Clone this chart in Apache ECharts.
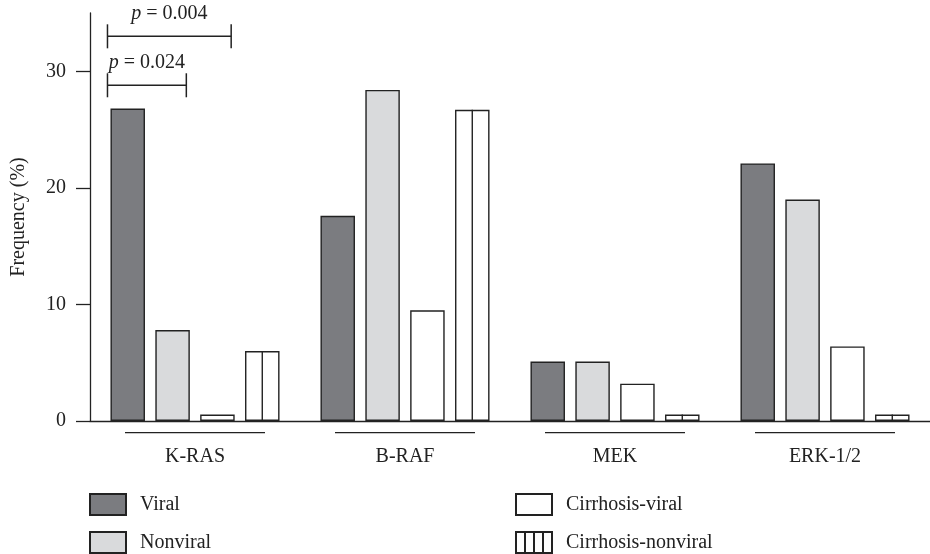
<!DOCTYPE html>
<html>
<head>
<meta charset="utf-8">
<script src="https://cdn.jsdelivr.net/npm/echarts@6/dist/echarts.min.js"></script>
<style>html,body{margin:0;padding:0;background:#fff}#c{width:930px;height:554px}</style>
</head>
<body>
<div id="c"></div>
<script>
const categories = ['K-RAS', 'B-RAF', 'MEK', 'ERK-1/2'];
const viral = [26.8, 17.6, 5.1, 22.1];
const nonviral = [7.8, 28.4, 5.1, 19.0];
const cirrhosisViral = [0.55, 9.5, 3.2, 6.4];
const cirrhosisNonviral = [6.0, 26.7, 0.55, 0.55];
const yTicks = [0, 10, 20, 30];
const seriesNames = ['Viral', 'Nonviral', 'Cirrhosis-viral', 'Cirrhosis-nonviral'];
const brackets = [
  { cat: 0, from: 0, to: 2, y: 33.0, p: '0.004' },
  { cat: 0, from: 0, to: 1, y: 28.8, p: '0.024' }
];

const FONT = 'Liberation Serif';
const FS = 20;
const INK = '#222';
const BAR_W = 34.5;
const GAP_RATIO = 0.3;
const GAP = BAR_W * GAP_RATIO;
const N = 4;
const GROUP_W = N * BAR_W + (N - 1) * GAP;
function barLeft(i) { return -GROUP_W / 2 + i * (BAR_W + GAP); }
function barCenter(i) { return barLeft(i) + BAR_W / 2; }

const border = { borderColor: INK, borderWidth: 1.4 };

const chart = echarts.init(document.getElementById('c'), null, { renderer: 'canvas' });

function barSeries(name, data, color) {
  return {
    name: name, type: 'bar', data: data, barWidth: BAR_W, barGap: (GAP_RATIO * 100) + '%',
    itemStyle: Object.assign({ color: color }, border),
    emphasis: { disabled: true }, animation: false
  };
}

const option = {
  animation: false,
  textStyle: { fontFamily: FONT, color: INK },
  grid: { left: 90, right: -5, top: 13, bottom: 133, containLabel: false },
  xAxis: {
    type: 'category', data: categories,
    axisLine: { show: true, lineStyle: { color: INK, width: 1.3 } },
    axisTick: { show: false },
    axisLabel: {
      margin: 11, interval: 0,
      formatter: v => '{line|}\n{name|' + v + '}',
      rich: {
        line: { width: 140, height: 1.3, lineHeight: 1.3, backgroundColor: INK },
        name: { fontFamily: FONT, fontSize: FS, color: INK, lineHeight: 47, verticalAlign: 'middle' }
      }
    }
  },
  yAxis: {
    type: 'value', min: 0, max: 35, interval: 10,
    name: 'Frequency (%)', nameLocation: 'middle', nameGap: 61, nameRotate: 90,
    nameTextStyle: { fontFamily: FONT, fontSize: FS, color: INK },
    axisLine: { show: true, lineStyle: { color: INK, width: 1.3 } },
    axisTick: { show: true, length: 14, lineStyle: { color: INK, width: 1.3 }, customValues: yTicks },
    axisLabel: { margin: 24, fontFamily: FONT, fontSize: FS, color: INK, customValues: yTicks },
    splitLine: { show: false }
  },
  legend: [
    {
      data: [{ name: seriesNames[0], icon: 'rect' }, { name: seriesNames[1], icon: 'rect' }],
      orient: 'vertical', left: 89, top: 493, padding: 0, itemWidth: 36, itemHeight: 21, itemGap: 15,
      selectedMode: false,
      textStyle: { fontFamily: FONT, fontSize: FS, color: INK, padding: [0, 0, 0, 9] }
    },
    {
      data: [{ name: seriesNames[2], icon: 'rect' },
             { name: seriesNames[3], icon: 'path://M0,0L36,0L36,21L0,21Z M9,0L9,21 M18,0L18,21 M27,0L27,21' }],
      orient: 'vertical', left: 515, top: 493, padding: 0, itemWidth: 36, itemHeight: 21, itemGap: 15,
      selectedMode: false,
      textStyle: { fontFamily: FONT, fontSize: FS, color: INK, padding: [0, 0, 0, 9] }
    }
  ],
  series: [
    barSeries(seriesNames[0], viral, '#7b7c80'),
    barSeries(seriesNames[1], nonviral, '#d9dadc'),
    barSeries(seriesNames[2], cirrhosisViral, '#ffffff'),
    barSeries(seriesNames[3], cirrhosisNonviral, '#ffffff'),
    {
      type: 'custom', name: 'cn-divider', silent: true, z: 5,
      data: cirrhosisNonviral.map((v, i) => [i, v]),
      renderItem: function (params, api) {
        const top = api.coord([api.value(0), api.value(1)]);
        const base = api.coord([api.value(0), 0]);
        const x = top[0] + barCenter(3);
        return { type: 'line', shape: { x1: x, y1: top[1], x2: x, y2: base[1] },
                 style: { stroke: INK, lineWidth: 1.4 } };
      }
    },
    {
      type: 'custom', name: 'brackets', silent: true, z: 6,
      data: brackets.map(b => [b.cat, b.y, b.from, b.to]),
      renderItem: function (params, api) {
        const b = brackets[params.dataIndex];
        const c = api.coord([api.value(0), api.value(1)]);
        const x1 = c[0] + barLeft(api.value(2)) - 3;
        const x2 = c[0] + barLeft(api.value(3)) + BAR_W - 3.5;
        const y = c[1];
        const st = { stroke: INK, lineWidth: 1.5 };
        return {
          type: 'group',
          children: [
            { type: 'line', shape: { x1: x1, y1: y, x2: x2, y2: y }, style: st },
            { type: 'line', shape: { x1: x1, y1: y - 12, x2: x1, y2: y + 12 }, style: st },
            { type: 'line', shape: { x1: x2, y1: y - 12, x2: x2, y2: y + 12 }, style: st },
            { type: 'text', style: {
                text: '{i|p} = ' + b.p, x: (x1 + x2) / 2, y: y - 23,
                align: 'center', verticalAlign: 'middle',
                fontFamily: FONT, fontSize: FS, fill: INK,
                rich: { i: { fontStyle: 'italic', fontFamily: FONT, fontSize: FS, fill: INK } }
            } }
          ]
        };
      }
    }
  ]
};
chart.setOption(option);
</script>
</body>
</html>
